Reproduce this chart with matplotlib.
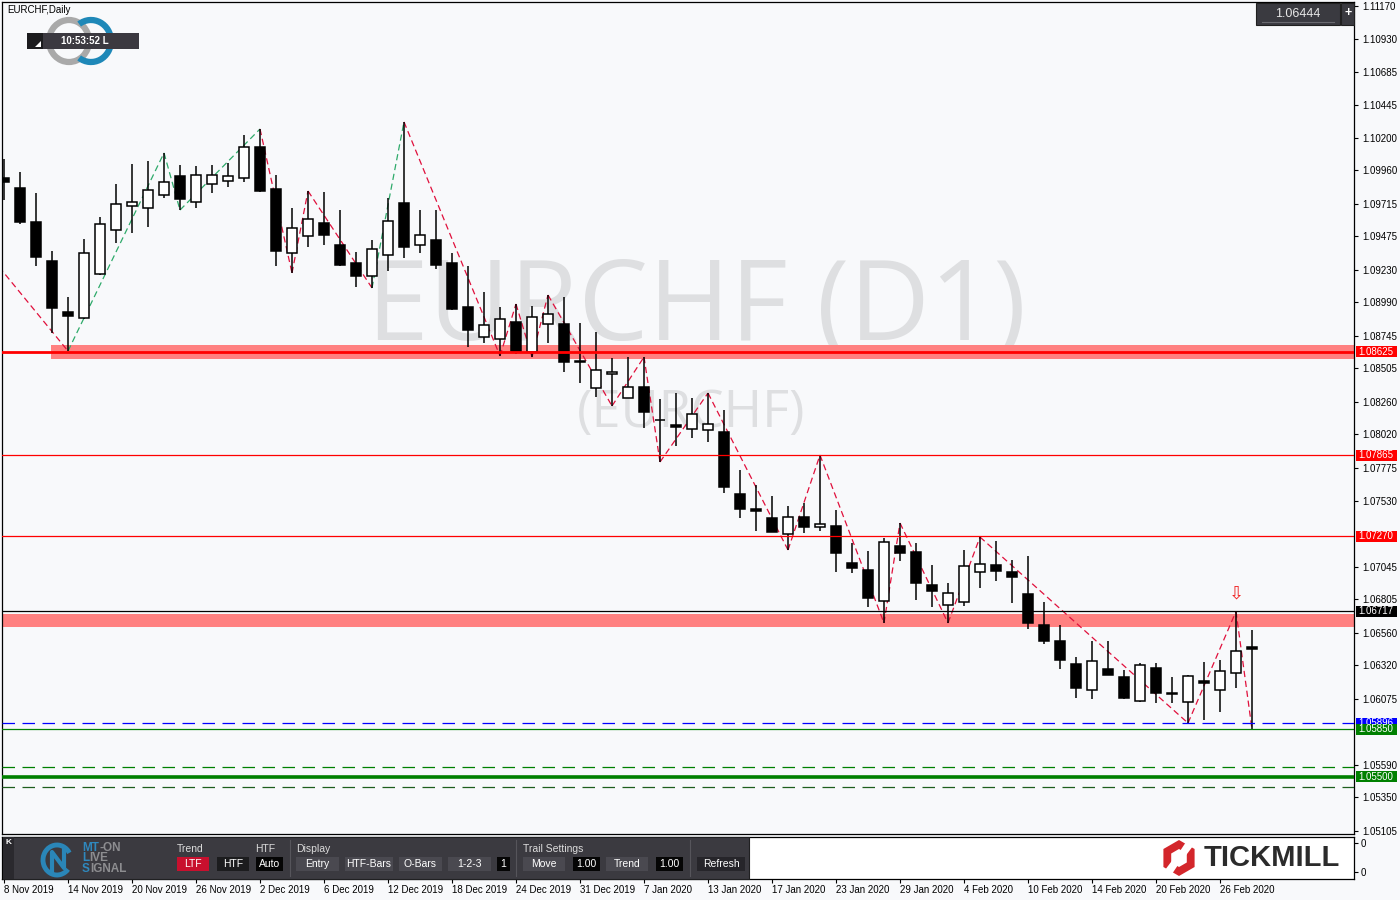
import numpy as np
import matplotlib
matplotlib.use('Agg')
import matplotlib.pyplot as plt
import matplotlib.transforms as mtransforms
from matplotlib.patches import Rectangle, Arc, RegularPolygon, Polygon

plt.rcParams['font.family'] = ['Liberation Sans', 'DejaVu Sans']

# daily EURCHF candles, 8 Nov 2019 .. 28 Feb 2020
opens = [1.09905, 1.09831, 1.09581, 1.09294, 1.08919, 1.08875, 1.09199, 1.09522, 1.09699, 1.09684,
         1.09780, 1.09920, 1.09728, 1.09861, 1.09883, 1.09905, 1.10133, 1.09824, 1.09353, 1.09478,
         1.09574, 1.09412, 1.09280, 1.09184, 1.09338, 1.09721, 1.09412, 1.09449, 1.09280, 1.08956,
         1.08735, 1.08721, 1.08846, 1.08625, 1.08831, 1.08831, 1.08559, 1.08360, 1.08463, 1.08287,
         1.08368, 1.08125, 1.08088, 1.08059, 1.08051, 1.08037, 1.07581, 1.07470, 1.07404, 1.07286,
         1.07411, 1.07338, 1.07345, 1.07073, 1.07022, 1.06794, 1.07198, 1.07154, 1.06911, 1.06764,
         1.06786, 1.07007, 1.07058, 1.07007, 1.06845, 1.06617, 1.06499, 1.06330, 1.06139, 1.06293,
         1.06235, 1.06058, 1.06301, 1.06117, 1.06051, 1.06205, 1.06139, 1.06264, 1.06455]
highs = [1.10045, 1.09949, 1.09794, 1.09368, 1.09030, 1.09456, 1.09618, 1.09861, 1.10008, 1.10030,
         1.10089, 1.10000, 1.09993, 1.10000, 1.10015, 1.10221, 1.10265, 1.09927, 1.09684, 1.09809,
         1.09802, 1.09669, 1.09361, 1.09449, 1.09758, 1.10317, 1.09669, 1.09669, 1.09353, 1.09258,
         1.09066, 1.08956, 1.08978, 1.08963, 1.09044, 1.09030, 1.08838, 1.08772, 1.08581, 1.08588,
         1.08588, 1.08279, 1.08323, 1.08287, 1.08323, 1.08198, 1.07757, 1.07647, 1.07566, 1.07492,
         1.07514, 1.07867, 1.07463, 1.07220, 1.07161, 1.07257, 1.07367, 1.07220, 1.07058, 1.06926,
         1.07169, 1.07264, 1.07235, 1.07095, 1.07125, 1.06786, 1.06617, 1.06382, 1.06499, 1.06499,
         1.06286, 1.06338, 1.06338, 1.06235, 1.06249, 1.06345, 1.06360, 1.06717, 1.06580]
lows = [1.09743, 1.09566, 1.09258, 1.08765, 1.08632, 1.08870, 1.09191, 1.09427, 1.09500, 1.09544,
        1.09758, 1.09669, 1.09684, 1.09794, 1.09839, 1.09875, 1.09805, 1.09258, 1.09206, 1.09397,
        1.09412, 1.09258, 1.09103, 1.09096, 1.09221, 1.09316, 1.09353, 1.09236, 1.08934, 1.08662,
        1.08691, 1.08596, 1.08610, 1.08588, 1.08691, 1.08478, 1.08397, 1.08294, 1.08228, 1.08283,
        1.08066, 1.07816, 1.07934, 1.07993, 1.07963, 1.07588, 1.07404, 1.07308, 1.07301, 1.07169,
        1.07294, 1.07308, 1.07007, 1.06999, 1.06750, 1.06632, 1.07088, 1.06801, 1.06750, 1.06632,
        1.06757, 1.06889, 1.06941, 1.06779, 1.06588, 1.06477, 1.06293, 1.06080, 1.06073, 1.06249,
        1.06073, 1.06051, 1.06043, 1.06043, 1.05896, 1.05918, 1.05977, 1.06154, 1.05850]
closes = [1.09875, 1.09581, 1.09324, 1.08949, 1.08890, 1.09353, 1.09566, 1.09714, 1.09728, 1.09817,
          1.09875, 1.09750, 1.09927, 1.09927, 1.09920, 1.10133, 1.09809, 1.09368, 1.09537, 1.09603,
          1.09486, 1.09265, 1.09184, 1.09383, 1.09589, 1.09397, 1.09486, 1.09265, 1.08941, 1.08787,
          1.08824, 1.08868, 1.08625, 1.08882, 1.08905, 1.08551, 1.08551, 1.08493, 1.08478, 1.08368,
          1.08184, 1.08122, 1.08073, 1.08169, 1.08095, 1.07632, 1.07470, 1.07456, 1.07301, 1.07411,
          1.07338, 1.07360, 1.07147, 1.07036, 1.06816, 1.07228, 1.07147, 1.06926, 1.06867, 1.06852,
          1.07051, 1.07066, 1.07014, 1.06970, 1.06632, 1.06499, 1.06360, 1.06154, 1.06352, 1.06249,
          1.06080, 1.06323, 1.06117, 1.06110, 1.06242, 1.06191, 1.06279, 1.06426, 1.06444]

date_labels = ["8 Nov 2019", "14 Nov 2019", "20 Nov 2019", "26 Nov 2019", "2 Dec 2019", "6 Dec 2019",
               "12 Dec 2019", "18 Dec 2019", "24 Dec 2019", "31 Dec 2019", "7 Jan 2020", "13 Jan 2020",
               "17 Jan 2020", "23 Jan 2020", "29 Jan 2020", "4 Feb 2020", "10 Feb 2020", "14 Feb 2020",
               "20 Feb 2020", "26 Feb 2020"]
date_every = 4

# zigzag turning points (bar index, price) and colour of each leg
zz_idx = [-1, 4, 10, 11, 16, 18, 19, 23, 25, 31, 32, 33, 34, 38, 40, 41, 44, 49, 51, 55, 56, 59, 61, 74, 77, 78]
zz_price = [1.09350, 1.08632, 1.10089, 1.09669, 1.10265, 1.09206, 1.09809, 1.09096, 1.10317, 1.08596,
            1.08978, 1.08588, 1.09044, 1.08228, 1.08588, 1.07816, 1.08323, 1.07169, 1.07867, 1.06632,
            1.07367, 1.06632, 1.07264, 1.05896, 1.06717, 1.05850]
zz_color = ['r', 'g', 'g', 'g', 'r', 'r', 'r', 'g'] + ['r'] * 17

# support / resistance objects
zone_hi = (1.08574, 1.08676)
zone_lo = (1.06602, 1.06698)
price_ticks = [1.11170, 1.10930, 1.10685, 1.10445, 1.10200, 1.09960, 1.09715, 1.09475, 1.09230, 1.08990,
               1.08745, 1.08505, 1.08260, 1.08020, 1.07775, 1.07530, 1.07045, 1.06805, 1.06560, 1.06320,
               1.06075, 1.05590, 1.05350, 1.05105]
level_vals = [1.08625, 1.07865, 1.07270, 1.06717, 1.05896, 1.05850, 1.05500]
level_cols = ['#FF0000', '#FF0000', '#FF0000', '#000000', '#0000FF', '#008000', '#008000']
dash_green = [1.05573, 1.05426]
last_price = 1.06444
signal_idx, signal_price = 77, 1.06850

W, H = 1400, 900
BG = '#F8F9FB'
fig = plt.figure(figsize=(14, 9), dpi=100, facecolor=BG)


def fx(px):
    return px / W


def fy(py):
    return 1 - py / H


ax = fig.add_axes([fx(2), fy(834), fx(1354) - fx(2), fy(2) - fy(834)])
ax.set_facecolor(BG)
ax.set_xlim(-0.125, 84.375)
ax.set_ylim(1.05080, 1.11199)

# watermark
ax.text((697 - 2) / 1352, (834 - 340) / 832, 'EURCHF (D1)', transform=ax.transAxes, ha='center',
        va='baseline', fontsize=80, color='#DEDFE1', family=['Open Sans', 'DejaVu Sans'], zorder=0)
ax.text((691 - 2) / 1352, (834 - 427) / 832, '(EURCHF)', transform=ax.transAxes, ha='center',
        va='baseline', fontsize=37.5, color='#DEDFE1', family=['Open Sans', 'DejaVu Sans'], zorder=0)

# zones and levels
ax.axhspan(*zone_hi, xmin=49 / 1352, color='#FF8080', lw=0, zorder=1)
ax.axhspan(*zone_lo, color='#FF8080', lw=0, zorder=1)
ax.axhline(level_vals[0], color='red', lw=2, zorder=6)
ax.axhline(level_vals[1], color='red', lw=0.9, zorder=6)
ax.axhline(level_vals[2], color='red', lw=0.9, zorder=6)
ax.axhline(level_vals[3], color='black', lw=0.9, zorder=6)
ax.axhline(level_vals[4], color='blue', lw=0.9, ls=(0, (10, 6)), zorder=6)
ax.axhline(level_vals[5], color='green', lw=0.9, zorder=6)
ax.axhline(level_vals[6], color='green', lw=2.6, zorder=6)
ax.axhline(dash_green[0], color='green', lw=0.9, ls=(0, (10, 6)), zorder=6)
ax.axhline(dash_green[1], color='#1E5E1E', lw=0.9, ls=(0, (10, 6)), zorder=6)

# zigzag
for i in range(len(zz_idx) - 1):
    col = '#E0103C' if zz_color[i] == 'r' else '#2EAA6A'
    ax.plot(zz_idx[i:i + 2], zz_price[i:i + 2], color=col, lw=0.9, ls=(0, (5, 3)), zorder=2)

# candles
o = np.array(opens)
c = np.array(closes)
idx = np.arange(len(o))
ax.vlines(idx, lows, highs, color='black', lw=1.1, zorder=3)
ax.bar(idx, np.abs(c - o), bottom=np.minimum(o, c), width=0.66,
       color=np.where(c >= o, 'white', 'black'), edgecolor='black', linewidth=1.1, zorder=4)

# signal arrow
ax.text(signal_idx, signal_price, '\u21e9', ha='center', va='center', fontsize=13,
        color='#F02020', family=['DejaVu Sans'], zorder=7)

# price axis
ax.yaxis.tick_right()
ax.set_yticks(price_ticks)
ax.set_yticklabels([f'{v:.5f}' for v in price_ticks])
ax.tick_params(axis='y', direction='out', length=3, width=0.8, pad=3, labelsize=7)
ax.set_xticks([])
for s in ax.spines.values():
    s.set_linewidth(0.9)

trans = mtransforms.blended_transform_factory(ax.transAxes, ax.transData)
box_h = 11 * (1.11199 - 1.05080) / 832
for k, (val, col) in enumerate(zip(level_vals, level_cols)):
    ax.add_patch(Rectangle((1.0015, val - box_h / 2), 41 / 1352, box_h, transform=trans,
                           fc=col, ec='none', clip_on=False, zorder=10 + 2 * k))
    ax.text(1.0035, val, f'{val:.5f}', transform=trans, ha='left', va='center', fontsize=7,
            color='white', clip_on=False, zorder=11 + 2 * k)

# indicator sub window with the dates
ax2 = fig.add_axes([fx(2), fy(879), fx(1354) - fx(2), fy(837) - fy(879)])
ax2.set_facecolor('white')
ax2.set_xlim(ax.get_xlim())
ax2.set_ylim(0, 1)
ax2.set_xticks(np.arange(len(date_labels)) * date_every)
ax2.set_xticklabels(date_labels, ha='left')
ax2.yaxis.tick_right()
ax2.set_yticks([0.85, 0.17])
ax2.set_yticklabels(['0', '0'])
ax2.tick_params(axis='both', direction='out', length=3, width=0.8, pad=1.5, labelsize=7)
for s in ax2.spines.values():
    s.set_linewidth(0.9)

# overlay for the terminal decorations (pixel coordinates)
ov = fig.add_axes([0, 0, 1, 1], zorder=10)
ov.set_xlim(0, W)
ov.set_ylim(H, 0)
ov.axis('off')
ov.patch.set_alpha(0)

ov.text(7, 10, 'EURCHF,Daily', fontsize=7, va='center')
ov.add_patch(Arc((69, 41), 40, 42, theta1=0, theta2=360, lw=4.5, color='#A9A9A9'))
ov.add_patch(Arc((91, 41), 40, 42, theta1=-125, theta2=125, lw=4.5, color='#1E88B8'))
ov.add_patch(Rectangle((27, 33), 112, 16, fc='#3B3940', ec='none'))
ov.add_patch(Rectangle((27, 33), 16, 16, fc='#1C1C1E', ec='none'))
ov.add_patch(Polygon([(35, 47), (41, 47), (41, 41)], fc='white', ec='none'))
ov.text(85, 41, '10:53:52 L', color='white', fontsize=7, fontweight='bold', ha='center', va='center')

ov.add_patch(Rectangle((1256, 3), 84, 22, fc='#3A3A40', ec='#202020', lw=0.8))
ov.plot([1262, 1334], [22, 22], color='#6A6A70', lw=0.8)
ov.text(1298, 14, f'{last_price:.5f}', color='#E8E8E8', fontsize=9, ha='center', va='center')
ov.add_patch(Rectangle((1341, 3), 13, 22, fc='#3A3A40', ec='#202020', lw=0.8))
ov.text(1348, 13, '+', color='white', fontsize=9, fontweight='bold', ha='center', va='center')

# MT-ON panel
ov.add_patch(Rectangle((3, 837), 746, 42, fc='#3B3A40', ec='#202022', lw=0.8))
ov.add_patch(Rectangle((3, 837), 11, 42, fc='#2A292E', ec='none'))
ov.text(8, 843, 'K', color='white', fontsize=6, fontweight='bold', ha='center', va='center')
ov.add_patch(Arc((57, 860), 28, 30, theta1=40, theta2=330, lw=3.5, color='#2A86B8'))
ov.plot([52, 52, 64, 64], [872, 852, 868, 848], color='#2A86B8', lw=3)
for txt, x, y, col in [('MT', 82, 848, '#2F88BD'), ('-ON', 100, 848, '#8D8D90'),
                       ('L', 82, 858, '#2F88BD'), ('IVE', 89, 858, '#8D8D90'),
                       ('S', 82, 869, '#2F88BD'), ('IGNAL', 90, 869, '#8D8D90')]:
    ov.text(x, y, txt, color=col, fontsize=8.5, fontweight='bold', va='center')
for txt, x in [('Trend', 177), ('HTF', 255), ('Display', 296), ('Trail Settings', 523)]:
    ov.text(x, 849, txt, color='#DCDCDC', fontsize=7.5, va='center')
buttons = [(177, 209, 'LTF', '#C8102E'), (217, 249, 'HTF', '#1C1C1E'), (256, 283, 'Auto', '#050505'),
           (296, 339, 'Entry', '#4A4950'), (345, 393, 'HTF-Bars', '#4A4950'), (399, 442, 'O-Bars', '#4A4950'),
           (448, 491, '1-2-3', '#4A4950'), (497, 510, '1', '#050505'), (523, 565, 'Move', '#4A4950'),
           (573, 600, '1.00', '#050505'), (606, 648, 'Trend', '#4A4950'), (656, 683, '1.00', '#050505'),
           (697, 745, 'Refresh', '#26252A')]
for x0, x1, txt, bg in buttons:
    ov.add_patch(Rectangle((x0, 857), x1 - x0, 14, fc=bg, ec='none'))
    ov.text((x0 + x1) / 2, 864, txt, color='white', fontsize=7.5, ha='center', va='center')
for x in [290, 516, 690]:
    ov.plot([x, x], [840, 876], color='#56555B', lw=0.8)

# Tickmill logo
ov.add_patch(RegularPolygon((1179, 858), 6, radius=18, fc='#D3262B', ec='none'))
ov.add_patch(RegularPolygon((1179, 858), 6, radius=9, fc='white', ec='none'))
ov.add_patch(Polygon([(1186, 842), (1193, 846), (1184, 858), (1178, 854)], fc='white', ec='none'))
ov.add_patch(Polygon([(1172, 874), (1165, 870), (1174, 858), (1180, 862)], fc='white', ec='none'))
ov.text(1204, 858, 'TICKMILL', fontsize=21, fontweight='bold', color='#2B2B2B', va='center')

fig.savefig('out.png', dpi=100, facecolor=BG)
